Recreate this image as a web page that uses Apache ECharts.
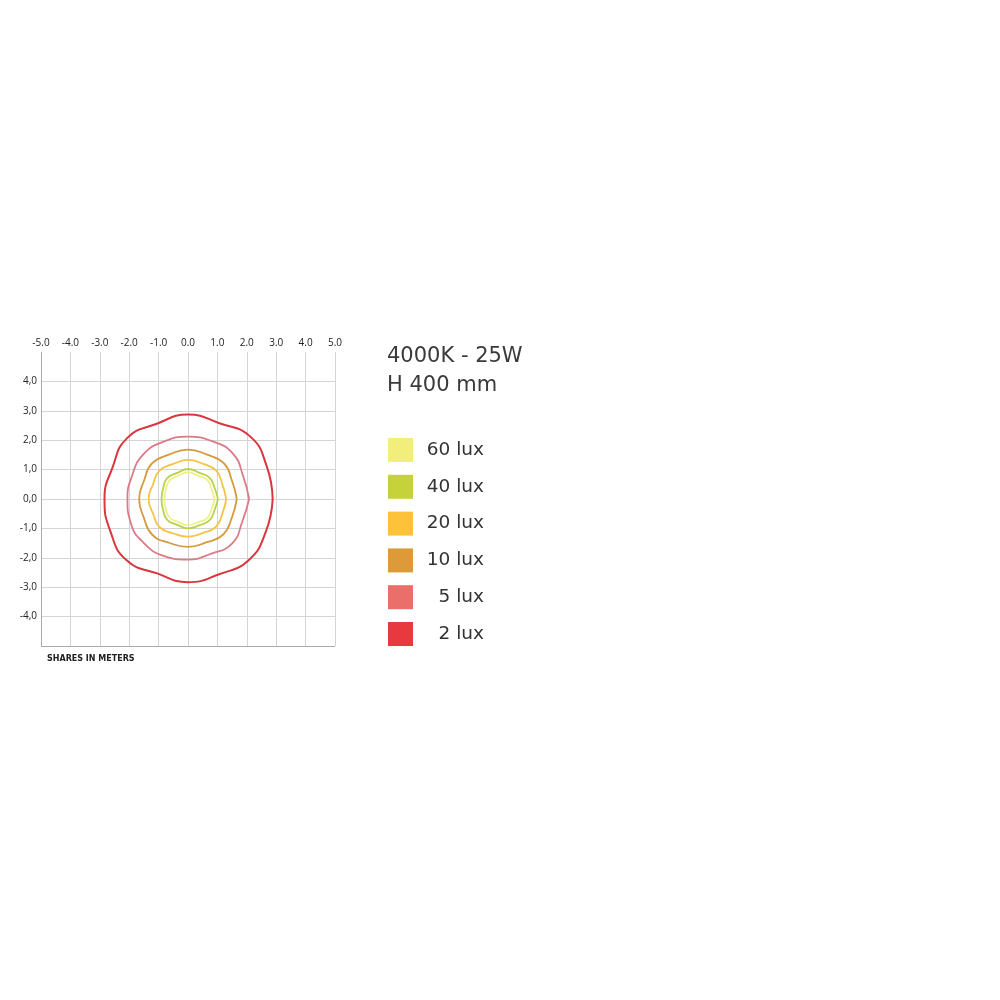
<!DOCTYPE html>
<html>
<head>
<meta charset="utf-8">
<script src="https://cdn.jsdelivr.net/npm/echarts@6/dist/echarts.min.js"></script>
<style>html,body{margin:0;padding:0;background:#fff;}#c{width:1000px;height:1000px;}</style>
</head>
<body>
<div id="c"></div>
<script>
// ---- data ----
var xTicks = [-5, -4, -3, -2, -1, 0, 1, 2, 3, 4, 5];
var yTicks = [-4, -3, -2, -1, 0, 1, 2, 3, 4];
var angles = [0, 22.5, 45, 67.5, 90, 112.5, 135, 157.5, 180, 202.5, 225, 247.5, 270, 292.5, 315, 337.5];
var levels = ['60 lux', '40 lux', '20 lux', '10 lux', '5 lux', '2 lux'];
// radius (m) of each isolux contour at the angles above
var r60 = [0.90, 0.87, 0.92, 0.86, 0.91, 0.86, 0.89, 0.82, 0.80, 0.82, 0.89, 0.85, 0.89, 0.86, 0.92, 0.87];
var r40 = [1.02, 0.98, 1.03, 0.97, 1.02, 0.96, 1.00, 0.92, 0.90, 0.92, 1.00, 0.95, 1.00, 0.97, 1.03, 0.98];
var r20 = [1.30, 1.27, 1.36, 1.30, 1.33, 1.29, 1.37, 1.29, 1.34, 1.29, 1.36, 1.27, 1.28, 1.26, 1.34, 1.27];
var r10 = [1.66, 1.62, 1.72, 1.64, 1.68, 1.64, 1.72, 1.62, 1.66, 1.63, 1.72, 1.62, 1.63, 1.60, 1.70, 1.62];
var r5  = [2.08, 2.03, 2.17, 2.13, 2.12, 2.12, 2.15, 2.06, 2.06, 2.11, 2.12, 2.10, 2.06, 2.02, 2.13, 2.00];
var r2  = [2.88, 2.90, 3.00, 2.79, 2.87, 2.77, 2.93, 2.78, 2.84, 2.86, 2.95, 2.74, 2.83, 2.77, 2.93, 2.87];

var lineColors = ['#eef08a', '#b9d24a', '#f6c444', '#d49a3c', '#dc7a86', '#d9363e'];
var legendColors = ['#f2ee7c', '#c5d23a', '#fcc33a', '#dc9a38', '#ea6e6a', '#e83a3e'];
var radii = [r60, r40, r20, r10, r5, r2];

var GL = 41, GT = 352, GW = 294, GH = 294;

function loop(rs) {
  var d = rs.map(function (r, i) { return [r, angles[i]]; });
  d.push([rs[0], 360]);
  return d;
}

var series = levels.map(function (name, i) {
  return {
    name: name,
    type: 'line',
    coordinateSystem: 'polar',
    smooth: 0.5,
    showSymbol: false,
    silent: true,
    data: loop(radii[i]),
    lineStyle: { color: lineColors[i], width: i === 5 ? 2 : 1.8 },
    itemStyle: { color: legendColors[i] },
    z: 10 - i
  };
});

var ySplitColors = [];
for (var k = -5; k <= 5; k++) ySplitColors.push(k === 5 ? 'rgba(0,0,0,0)' : (k === -5 ? '#aaaaaa' : '#d4d4d4'));

var chart = echarts.init(document.getElementById('c'), null, { renderer: 'canvas' });
chart.setOption({
  backgroundColor: '#ffffff',
  animation: false,
  textStyle: { fontFamily: 'DejaVu Sans' },
  title: {
    text: '4000K - 25W\nH 400 mm',
    left: 387, top: 342, padding: 0,
    textStyle: { fontSize: 21, fontWeight: 'normal', color: '#3a3a3a', lineHeight: 29, fontFamily: 'DejaVu Sans' }
  },
  legend: {
    orient: 'vertical',
    left: 388, top: 438, padding: 0,
    itemWidth: 25, itemHeight: 24, itemGap: 12.8,
    icon: 'rect',
    selectedMode: false,
    data: levels.map(function (n, i) { return { name: n, itemStyle: { color: legendColors[i] } }; }),
    formatter: function (n) { return '{a|' + n + '}'; },
    textStyle: {
      color: '#333',
      rich: { a: { width: 66, align: 'right', fontSize: 18.5, fontFamily: 'DejaVu Sans', color: '#333' } }
    }
  },
  grid: { left: GL, top: GT, width: GW, height: GH },
  xAxis: {
    type: 'value', position: 'top', min: -5, max: 5, interval: 1,
    axisLine: { show: false }, axisTick: { show: false },
    axisLabel: { fontSize: 10, color: '#222', margin: 4, fontFamily: 'Open Sans', formatter: function (v) { return v.toFixed(1); } },
    splitLine: { lineStyle: { color: ['#aaaaaa', '#d4d4d4', '#d4d4d4', '#d4d4d4', '#d4d4d4', '#d4d4d4', '#d4d4d4', '#d4d4d4', '#d4d4d4', '#d4d4d4', '#d4d4d4'], width: 1 } }
  },
  yAxis: {
    type: 'value', min: -5, max: 5, interval: 1,
    axisLine: { show: false }, axisTick: { show: false },
    axisLabel: { fontSize: 10, color: '#222', margin: 4, fontFamily: 'Open Sans',
      formatter: function (v) { return (v === 5 || v === -5) ? '' : v.toFixed(1).replace('.', ','); } },
    splitLine: { lineStyle: { color: ySplitColors, width: 1 } }
  },
  polar: { center: [GL + GW / 2, GT + GH / 2], radius: GW / 2 },
  angleAxis: { type: 'value', min: 0, max: 360, startAngle: 0, clockwise: false, show: false, splitLine: { show: false } },
  radiusAxis: { type: 'value', min: 0, max: 5, show: false, splitLine: { show: false } },
  graphic: [{
    type: 'text', left: 47, top: 655,
    style: { text: 'SHARES IN METERS', fontSize: 8, fontWeight: 'bold', fill: '#222', fontFamily: 'DejaVu Sans' }
  }],
  series: series
});
</script>
</body>
</html>
